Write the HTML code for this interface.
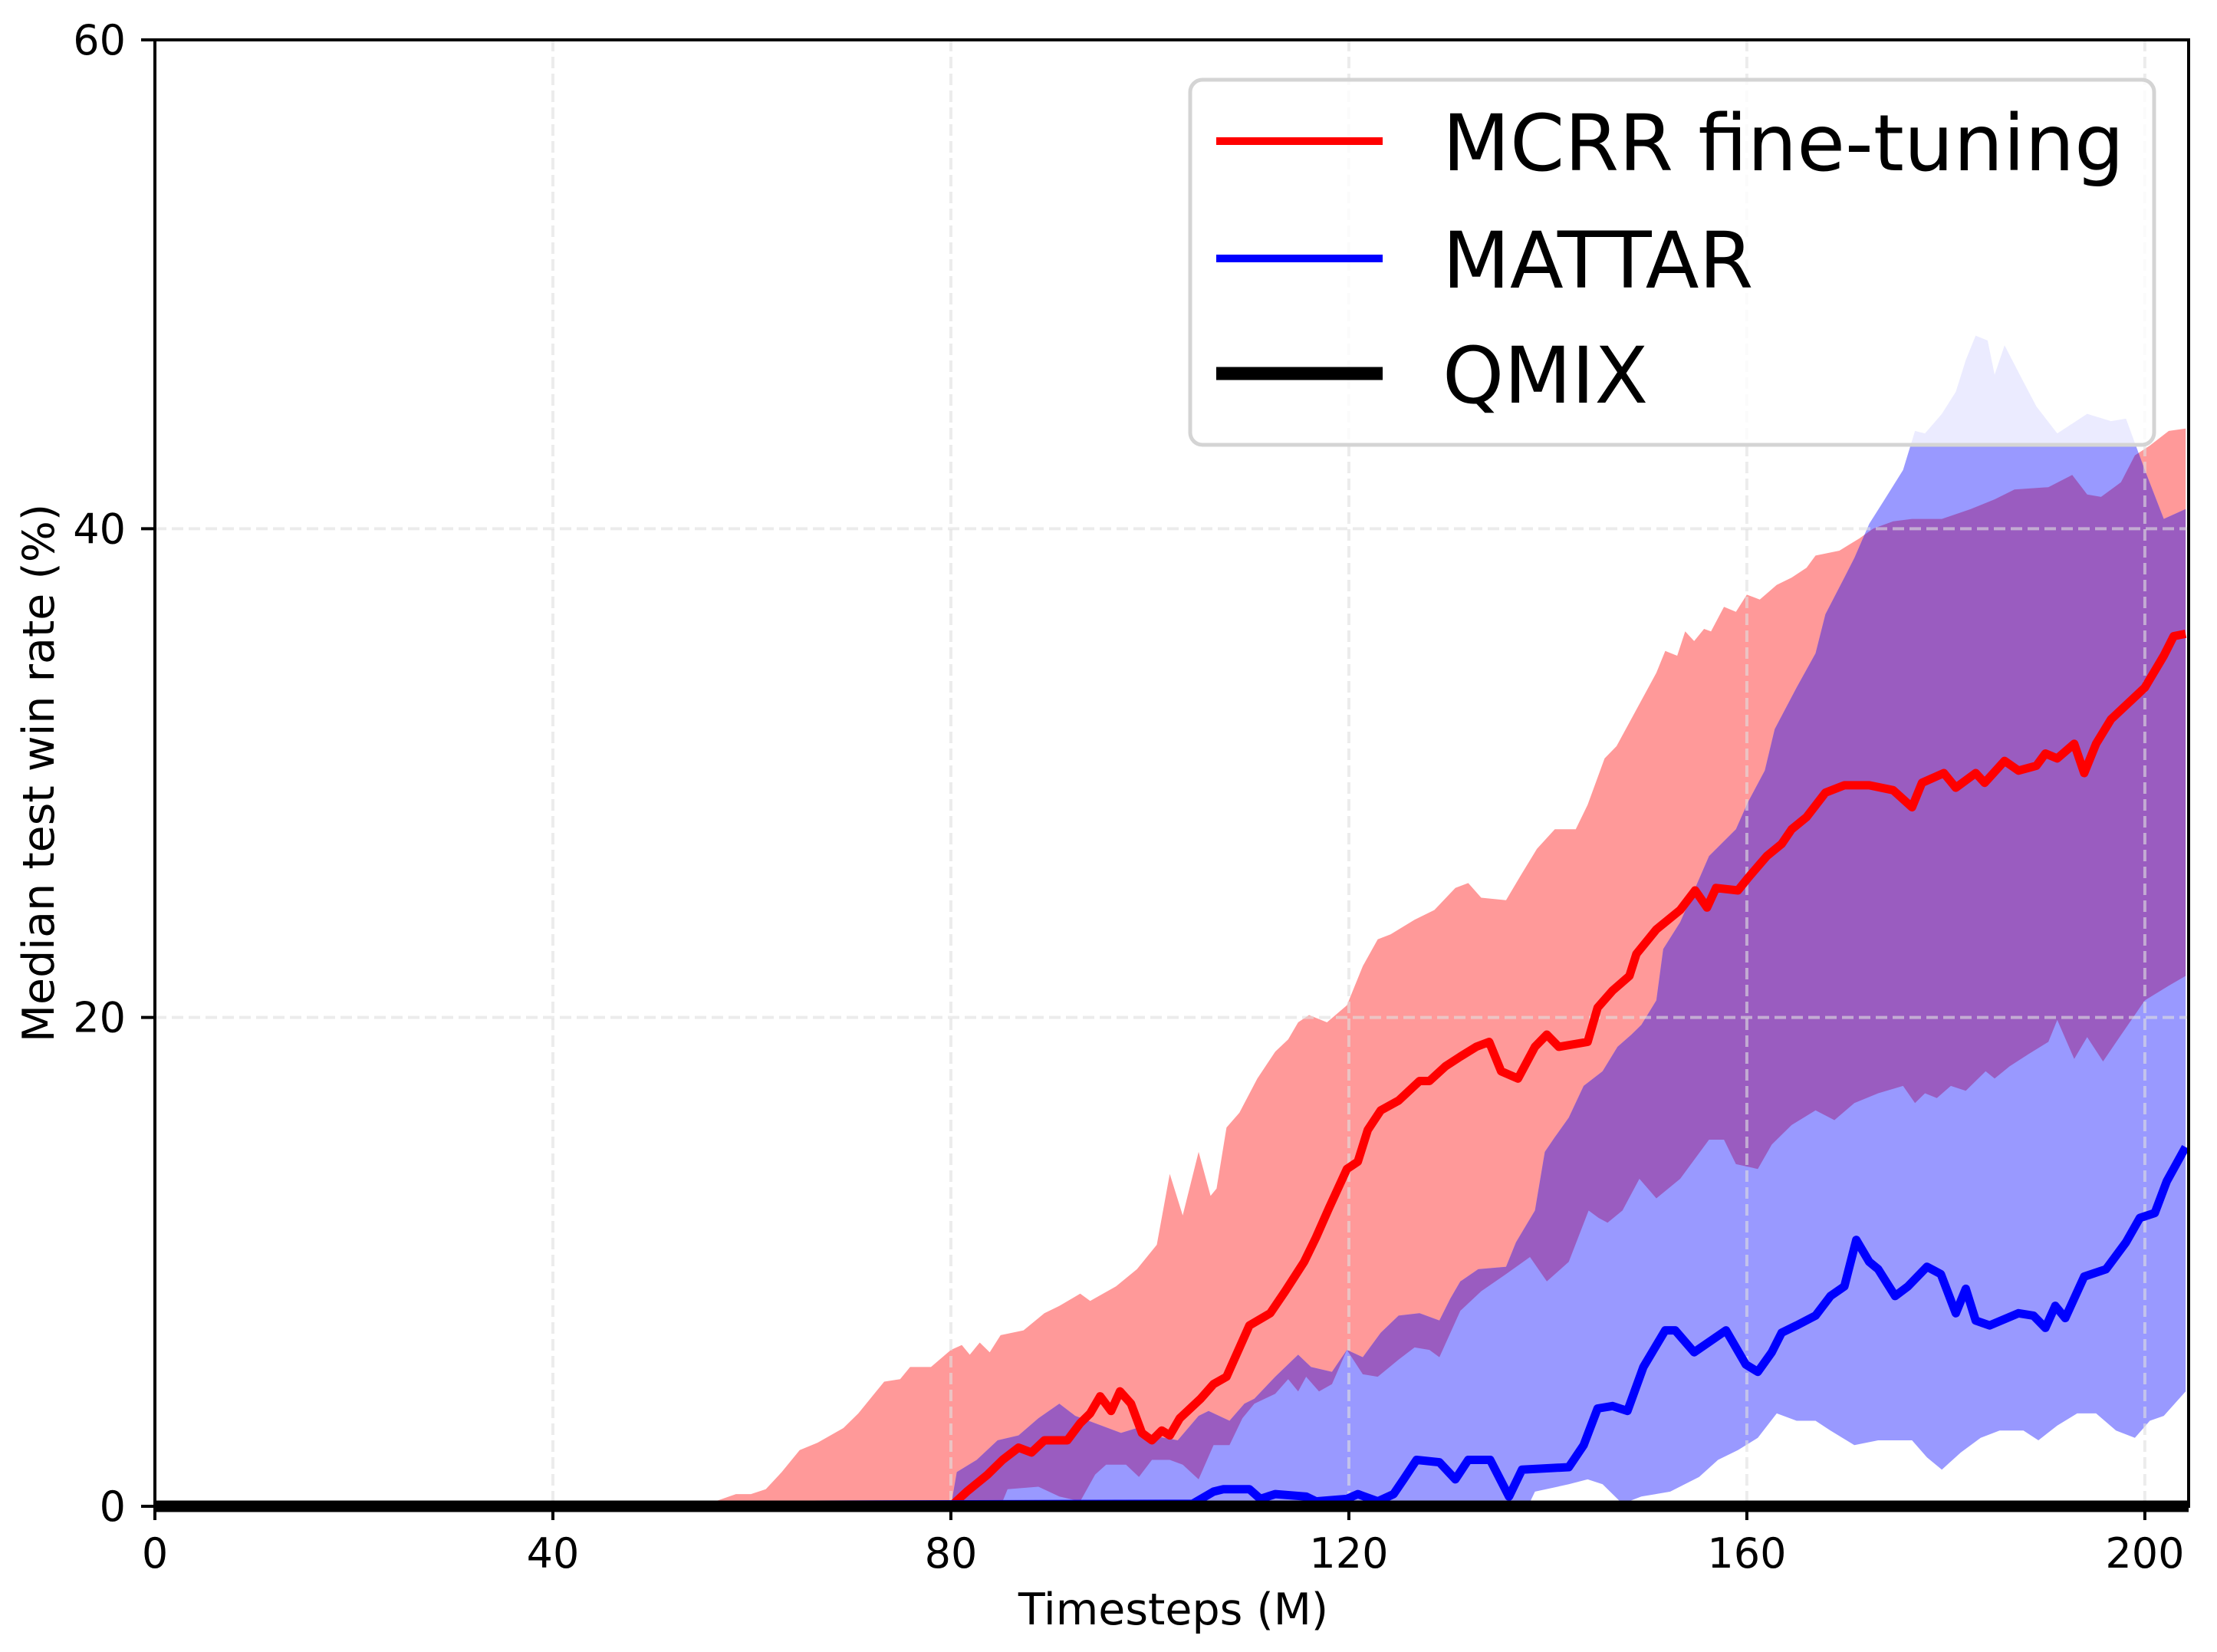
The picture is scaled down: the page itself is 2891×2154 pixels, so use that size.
<!DOCTYPE html>
<html><head><meta charset="utf-8">
<style>html,body{margin:0;padding:0;background:#fff}svg{display:block}text{font-family:"DejaVu Sans","Liberation Sans",sans-serif}</style>
</head><body>
<svg id="chart" width="2891" height="2154" viewBox="0 0 2891 2154" xmlns="http://www.w3.org/2000/svg">
<defs><clipPath id="plotclip"><rect x="202" y="52" width="2652" height="1912"/></clipPath>
<clipPath id="lineclip"><rect x="202" y="52" width="2652" height="1945"/></clipPath></defs>
<rect width="2891" height="2154" fill="#fff"/>
<g id="bands" clip-path="url(#plotclip)"></g>
<g id="grid"></g>
<g id="lines" clip-path="url(#lineclip)"></g>
<g id="axes"></g>
<g id="legend"></g>
</svg>
<script>
const xTicks=[0,40,80,120,160,200];
const yTicks=[0,20,40,60];
const redMedX=[0,80,81.6,83.7,85.2,86.8,88.1,89.4,91.7,93,94,95,96.1,97,98.1,99.2,100.2,101.2,102,103,105.1,106.4,107.7,110,112.1,113.6,115.5,116.7,118,119.8,120.9,121.9,123.2,125,127.1,128.1,129.7,131.2,132.8,134.1,135.3,137,138.7,139.9,141.1,144,145,146.5,148.2,148.9,150.9,153.3,154.8,156,156.9,159.1,160.1,162,163.5,164.5,166,167.9,169.8,172.3,174.7,176.6,177.6,179.8,181,183,183.9,185.9,187.3,189.1,190,191.2,192.9,193.9,195.1,196.6,200,201.9,202.9,204.1];
const redMed=[0,0,0.6,1.3,1.9,2.4,2.2,2.7,2.7,3.4,3.8,4.5,3.9,4.7,4.2,3.0,2.7,3.1,2.9,3.6,4.4,5.0,5.3,7.4,7.9,8.8,10.0,11.0,12.2,13.8,14.1,15.4,16.2,16.6,17.4,17.4,18.0,18.4,18.8,19.0,17.8,17.5,18.8,19.3,18.8,19.0,20.4,21.1,21.7,22.6,23.6,24.4,25.2,24.5,25.3,25.2,25.7,26.6,27.1,27.7,28.2,29.2,29.5,29.5,29.3,28.6,29.6,30.0,29.4,30.0,29.6,30.5,30.1,30.3,30.8,30.6,31.2,30.0,31.2,32.2,33.5,34.8,35.6,35.7];
const redUpX=[0,56.3,58.4,59.9,61.4,63,64.8,66.6,69.2,70.7,73.3,74.9,75.9,78,80,81.1,81.9,82.9,83.9,85,87.3,89.4,90.9,93,94,96.6,98.7,100.7,102,103.3,104.9,106.1,106.7,107.7,109,110.8,112.6,113.9,114.9,116,117.8,119.8,121.4,122.9,124.2,126.6,128.6,130.7,132,133.3,135.8,137.4,138.9,140.7,142.8,144,145.7,146.9,150.9,151.8,153,153.8,154.7,155.7,156.4,157.7,158.9,160,161.3,163,164.5,166,166.9,169.3,171.3,172.7,174.7,176.6,179.6,182.5,184.9,186.9,190.3,192.7,194.2,195.6,197.6,199,200.5,202.4,204.1];
const redUp=[0,0.2,0.5,0.5,0.7,1.4,2.3,2.6,3.2,3.8,5.1,5.2,5.7,5.7,6.4,6.6,6.2,6.7,6.3,7.0,7.2,7.9,8.2,8.7,8.4,9.0,9.7,10.7,13.6,11.9,14.5,12.7,13.0,15.5,16.1,17.5,18.6,19.1,19.8,20.1,19.8,20.5,22.1,23.2,23.4,24.0,24.4,25.3,25.5,24.9,24.8,25.9,26.9,27.7,27.7,28.7,30.6,31.1,34.1,35.0,34.8,35.8,35.4,35.9,35.8,36.8,36.6,37.3,37.1,37.7,38.0,38.4,38.9,39.1,39.6,40.0,40.3,40.4,40.4,40.8,41.2,41.6,41.7,42.2,41.4,41.3,41.9,43.0,43.4,44.0,44.1];
const redLowX=[0,85,85.7,88.8,90.9,93,94.5,95.6,97.6,98.9,100.2,102,103.3,104.9,106.4,108,109.3,110.5,112.6,113.9,114.9,115.7,117,118.3,119.8,121.4,122.9,125,126.6,128.1,129.1,131.2,133.3,135.8,138.2,139.9,142.1,144.1,145.1,146,147.5,149.2,150.9,153.3,156.2,157.7,158.9,161.1,162.5,164.5,166.9,168.8,170.8,173.2,175.7,176.9,177.9,179.1,180.5,182,184,184.9,186.4,188.3,190.3,191.2,192.9,194.2,195.8,197.3,200,202.4,204.1];
const redLow=[0,0,0.7,0.8,0.4,0.2,1.3,1.7,1.7,1.2,1.9,1.9,1.7,1.1,2.5,2.5,3.6,4.2,4.6,5.2,4.7,5.3,4.7,5.0,6.4,5.4,5.3,6.0,6.5,6.4,6.1,8.0,8.8,9.5,10.2,9.2,10.0,12.1,11.8,11.6,12.1,13.4,12.6,13.4,15.0,15.0,14.0,13.8,14.8,15.6,16.2,15.8,16.5,16.9,17.2,16.5,16.9,16.7,17.2,17.0,17.8,17.5,18.0,18.5,19.0,19.9,18.3,19.2,18.2,19.1,20.7,21.3,21.7];
const blueUpX=[80,80.6,82.6,84.7,86.8,88.8,90.9,92.5,94.5,97.1,98.7,100.2,102.8,104.9,105.9,108,109.5,110.5,112.6,114.9,116.2,118.3,119.8,121.4,123.2,125,127.1,129.1,130.2,131.2,133,135.8,136.8,138.7,139.7,140.7,142.1,143.6,145.5,147,148.4,149.4,150.9,151.6,153.3,154.7,156.2,158.9,160.1,161.8,162.8,165,166.9,167.9,169.8,170.8,172.3,173.7,175.7,176.9,177.9,179.6,181,182,183,184.2,184.9,185.9,187.3,189.1,191.2,194.2,196.6,198.1,200,201.9,204.1];
const blueUp=[0,1.4,1.9,2.7,2.9,3.6,4.2,3.7,3.4,3.0,3.2,2.9,2.7,3.7,3.9,3.5,4.2,4.4,5.3,6.2,5.7,5.5,6.4,6.1,7.1,7.8,7.9,7.6,8.5,9.2,9.7,9.8,10.8,12.1,14.5,15.1,15.9,17.2,17.8,18.8,19.3,19.7,20.7,22.8,23.9,25.2,26.6,27.7,28.8,30.1,31.8,33.5,34.9,36.5,38.0,38.8,40.2,41.1,42.4,44.0,43.9,44.7,45.6,46.9,47.9,47.7,46.3,47.5,46.4,45.0,43.9,44.7,44.4,44.5,42.4,40.4,40.8];
const blueLowX=[80,138,138.7,142.1,144,145.5,147.5,149.4,152.3,155.2,157.1,159.1,161.1,163,165,166.9,168.4,170.8,173.2,176.6,178.1,179.6,181.5,183.5,185.4,187.8,189.3,191.2,193.2,195.1,197.1,199,200.5,201.9,204.1];
const blueLow=[0,0,0.6,0.9,1.1,0.9,0.1,0.4,0.6,1.2,1.9,2.3,2.8,3.8,3.5,3.5,3.1,2.5,2.7,2.7,2.0,1.5,2.2,2.8,3.1,3.1,2.7,3.3,3.8,3.8,3.1,2.8,3.5,3.7,4.7];
const blueMedX=[0,104.3,106.4,107.4,110,111.1,112.6,115.7,116.7,119.8,120.9,122.9,124.5,125.5,126.8,129.1,130.7,132,134.2,136.1,137.4,142.1,143.6,145,146.5,148,149.6,151.8,152.8,154.7,157.9,159.9,161.1,162.5,163.5,165,166.9,168.4,169.8,171,172.3,173.2,174.9,176.2,178.1,179.5,181,182,183,184.4,187.3,188.8,190,191,192,193.9,196.1,198.1,199.5,201,202.2,204.1];
const blueMed=[0,0.1,0.6,0.7,0.7,0.3,0.5,0.4,0.2,0.3,0.5,0.2,0.5,1.1,1.9,1.8,1.1,1.9,1.9,0.4,1.5,1.6,2.5,4.0,4.1,3.9,5.7,7.2,7.2,6.3,7.2,5.8,5.5,6.3,7.1,7.4,7.8,8.6,9.0,10.9,10.0,9.7,8.6,9.0,9.8,9.5,7.9,8.9,7.6,7.4,7.9,7.8,7.3,8.2,7.7,9.4,9.7,10.8,11.8,12.0,13.3,14.7];
const qmixX=[0,204.5];
const qmix=[0,0];

const NS='http://www.w3.org/2000/svg';
const X0=202,X1=2854,Y0=1964,Y1=52,XMAX=204.4,YMAX=60;
function sx(v){return X0+v/XMAX*(X1-X0);}
function sy(v){return Y0-v/YMAX*(Y0-Y1);}
function mk(tag,attrs,parent){const e=document.createElementNS(NS,tag);for(const k in attrs)e.setAttribute(k,attrs[k]);parent.appendChild(e);return e;}
function pts(xs,ys){return xs.map((x,i)=>sx(x).toFixed(1)+','+sy(ys[i]).toFixed(1));}
function bandPts(ux,uy,lx,ly){return pts(ux,uy).concat(pts(lx,ly).reverse()).join(' ');}

const bands=document.getElementById('bands');
const defs=document.querySelector('defs');
const cp=mk('clipPath',{id:'redclip'},defs);
mk('polygon',{points:bandPts(redUpX,redUp,redLowX,redLow)},cp);
let e=mk('polygon',{points:bandPts(redUpX,redUp,redLowX,redLow),fill:'#ff9999'},bands);


e=mk('polygon',{points:bandPts(blueUpX,blueUp,blueLowX,blueLow),fill:'#9999ff'},bands);


e=mk('polygon',{points:bandPts(blueUpX,blueUp,blueLowX,blueLow),fill:'#9a5cc0','clip-path':'url(#redclip)'},bands);



const grid=document.getElementById('grid');
xTicks.slice(1).forEach(t=>{const g=mk('line',{x1:sx(t),x2:sx(t),y1:Y1,y2:Y0,stroke:'#e0e0e0','stroke-opacity':0.6,'stroke-width':4,'stroke-dasharray':'15,7'},grid);

});
yTicks.slice(1,3).forEach(t=>{const g=mk('line',{x1:X0,x2:X1,y1:sy(t),y2:sy(t),stroke:'#e0e0e0','stroke-opacity':0.6,'stroke-width':4,'stroke-dasharray':'15,7'},grid);

});

const lines=document.getElementById('lines');
e=mk('polyline',{points:pts(redMedX,redMed).join(' '),fill:'none',stroke:'#ff0000','stroke-width':11,'stroke-linejoin':'round'},lines);


e=mk('polyline',{points:pts(blueMedX,blueMed).join(' '),fill:'none',stroke:'#0000ff','stroke-width':11,'stroke-linejoin':'round'},lines);


e=mk('polyline',{points:pts(qmixX,qmix).join(' '),fill:'none',stroke:'#000','stroke-width':15},lines);



const axes=document.getElementById('axes');
e=mk('rect',{x:X0,y:Y1,width:X1-X0,height:Y0-Y1,fill:'none',stroke:'#000','stroke-width':4},axes);


xTicks.forEach(t=>{mk('line',{x1:sx(t),x2:sx(t),y1:Y0,y2:Y0+18,stroke:'#000','stroke-width':4},axes);
const tx=mk('text',{x:sx(t),y:2044,'font-size':54,'text-anchor':'middle'},axes);tx.textContent=String(t);

});
yTicks.forEach(t=>{mk('line',{x1:X0-18,x2:X0,y1:sy(t),y2:sy(t),stroke:'#000','stroke-width':4},axes);
const tx=mk('text',{x:164,y:sy(t)+19,'font-size':54,'text-anchor':'end'},axes);tx.textContent=String(t);

});
e=mk('text',{x:1530,y:2118,'font-size':57,'text-anchor':'middle'},axes);e.textContent='Timesteps (M)';


e=mk('text',{x:0,y:0,'font-size':57,'text-anchor':'middle',transform:'translate(70,1008) rotate(-90)'},axes);e.textContent='Median test win rate (%)';



const lg=document.getElementById('legend');
e=mk('rect',{x:1552,y:104,width:1257,height:476,rx:16,fill:'#fff','fill-opacity':0.8,stroke:'#d4d4d4','stroke-width':5},lg);


const entries=[['MCRR fine-tuning','#ff0000',10,184],['MATTAR','#0000ff',10,337],['QMIX','#000',17,487]];
entries.forEach(en=>{const l=mk('line',{x1:1586,x2:1803,y1:en[3],y2:en[3],stroke:en[1],'stroke-width':en[2]},lg);


const t=mk('text',{x:1881,y:en[3]+38,'font-size':102},lg);t.textContent=en[0];

});
</script>
</body></html>
